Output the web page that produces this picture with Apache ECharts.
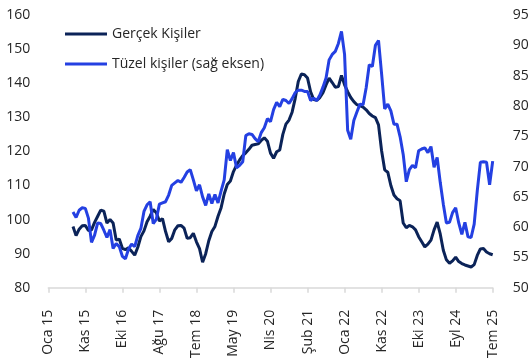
<!DOCTYPE html>
<html>
<head>
<meta charset="utf-8">
<script src="https://cdn.jsdelivr.net/npm/echarts@6/dist/echarts.min.js"></script>
<style>
html,body{margin:0;padding:0;background:#fff;}
#chart{width:532px;height:361px;}
</style>
</head>
<body>
<div id="chart"></div>
<script>
// Tick labels shown on the x axis (every 12th point)
const tickLabels = ['Oca 15','Kas 15','Eki 16','Ağu 17','Tem 18','May 19','Nis 20','Şub 21','Oca 22','Kas 22','Eki 23','Eyl 24','Tem 25'];
const pointsPerTick = 12;
const leadingGaps = 8; // points before the series start

// Gerçek Kişiler (left axis)
const gercekKisiler = [
  98.0, 95.3, 97.2, 98.2, 98.3, 96.8, 97.0, 99.2, 101.0, 102.8,
  102.5, 99.0, 100.0, 99.0, 94.0, 94.3, 91.6, 91.2, 91.7, 90.7,
  89.6, 91.9, 95.0, 96.7, 99.4, 101.0, 103.0, 102.0, 99.6, 100.3,
  96.5, 93.5, 94.5, 97.0, 98.2, 98.3, 97.5, 94.5, 94.7, 96.0,
  93.5, 91.5, 87.5, 90.0, 93.8, 96.5, 98.0, 101.0, 103.5, 107.5,
  110.3, 111.3, 114.1, 116.0, 117.5, 118.8, 119.6, 120.6, 121.8, 122.0,
  122.2, 123.2, 124.0, 123.0, 119.5, 118.0, 119.9, 120.4, 125.0, 128.0,
  129.2, 131.5, 135.5, 140.5, 142.7, 142.5, 141.5, 137.5, 135.2, 135.0,
  135.8, 137.2, 139.5, 141.5, 140.2, 138.8, 139.0, 142.3, 139.5, 137.5,
  135.8, 134.6, 133.7, 133.4, 133.0, 132.2, 131.1, 130.4, 129.9, 127.8,
  120.2, 114.6, 113.9, 110.0, 107.2, 106.1, 105.5, 99.0, 97.6, 98.3,
  97.9, 97.0, 95.0, 93.5, 92.0, 92.8, 94.0, 97.0, 99.3, 95.8,
  91.0, 88.2, 87.2, 87.9, 89.0, 87.7, 87.1, 86.7, 86.4, 86.1,
  86.8, 89.5, 91.4, 91.5, 90.5, 90.0, 89.7
];

// Tüzel kişiler (right axis)
const tuzelKisiler = [
  62.5, 61.6, 62.8, 63.2, 63.1, 61.5, 57.5, 58.7, 60.7, 60.6,
  59.5, 58.3, 59.6, 56.5, 57.3, 56.8, 55.2, 54.8, 56.4, 57.2,
  56.8, 58.6, 59.8, 62.6, 63.7, 64.2, 60.6, 61.3, 63.8, 64.0,
  64.2, 65.3, 66.9, 67.3, 67.7, 67.4, 68.2, 69.1, 69.5, 67.8,
  66.0, 67.0, 65.0, 63.6, 65.5, 63.9, 65.4, 64.0, 66.0, 67.8,
  72.8, 71.0, 72.3, 69.8, 70.2, 70.8, 75.1, 75.4, 75.3, 74.6,
  74.1, 75.6, 76.4, 77.9, 77.4, 79.4, 80.6, 79.9, 81.1, 80.9,
  80.4, 81.2, 82.2, 82.6, 82.6, 82.4, 82.4, 80.9, 81.3, 80.9,
  81.8, 83.1, 84.6, 87.6, 88.5, 89.0, 90.3, 92.3, 88.5, 76.0,
  74.5, 77.6, 79.0, 80.3, 80.2, 83.0, 86.8, 86.5, 90.0, 90.8,
  85.3, 79.5, 80.3, 79.2, 77.0, 77.0, 74.9, 72.0, 67.5, 69.5,
  70.2, 69.8, 72.6, 72.9, 73.1, 72.3, 73.3, 69.9, 71.5, 67.4,
  63.8, 60.7, 60.8, 62.4, 63.2, 60.7, 58.8, 60.8, 58.4, 58.3,
  60.5, 66.0, 70.7, 70.8, 70.7, 67.0, 70.9
];

const totalPoints = (tickLabels.length - 1) * pointsPerTick + 1;
const categories = [];
for (let i = 0; i < totalPoints; i++) categories.push(String(i));
const pad = n => new Array(n).fill(null);
const gData = pad(leadingGaps).concat(gercekKisiler);
const tData = pad(leadingGaps).concat(tuzelKisiler);

const FONT = '"Open Sans", "Noto Sans", sans-serif';
const DARK = '#0B2358';
const BLUE = '#2440E2';
const chart = echarts.init(document.getElementById('chart'));
chart.setOption({
  animation: false,
  backgroundColor: '#ffffff',
  grid: { left: 48.3, right: 39.3, top: 15, bottom: 70, containLabel: false },
  legend: {
    orient: 'vertical',
    left: 60,
    top: 21,
    icon: 'rect',
    itemWidth: 42,
    itemHeight: 3,
    itemGap: 14,
    textStyle: { fontFamily: FONT, fontSize: 14, color: '#262626', lineHeight: 16 },
    data: ['Gerçek Kişiler', 'Tüzel kişiler (sağ eksen)']
  },
  xAxis: {
    type: 'category',
    boundaryGap: false,
    data: categories,
    axisLine: { show: true, lineStyle: { color: '#d9d9d9', width: 1.5 } },
    axisTick: { show: true, interval: pointsPerTick - 1, length: 5, lineStyle: { color: '#d9d9d9', width: 1.5 } },
    axisLabel: {
      interval: pointsPerTick - 1,
      rotate: 90,
      margin: 22,
      fontFamily: FONT,
      fontSize: 14,
      color: '#262626',
      formatter: (v, idx) => tickLabels[Math.round(idx / pointsPerTick)]
    },
    splitLine: { show: false }
  },
  yAxis: [
    {
      type: 'value', min: 80, max: 160, interval: 10,
      axisLine: { show: false }, axisTick: { show: false }, splitLine: { show: false },
      axisLabel: { fontFamily: FONT, fontSize: 14, color: '#262626', margin: 18 }
    },
    {
      type: 'value', min: 50, max: 95, interval: 5, position: 'right',
      axisLine: { show: false }, axisTick: { show: false }, splitLine: { show: false },
      axisLabel: { fontFamily: FONT, fontSize: 14, color: '#262626', margin: 20 }
    }
  ],
  series: [
    {
      name: 'Gerçek Kişiler', type: 'line', yAxisIndex: 0, data: gData,
      symbol: 'none', connectNulls: false,
      lineStyle: { color: DARK, width: 3 }, itemStyle: { color: DARK }
    },
    {
      name: 'Tüzel kişiler (sağ eksen)', type: 'line', yAxisIndex: 1, data: tData,
      symbol: 'none', connectNulls: false,
      lineStyle: { color: BLUE, width: 3 }, itemStyle: { color: BLUE }
    }
  ]
});
</script>
</body>
</html>
